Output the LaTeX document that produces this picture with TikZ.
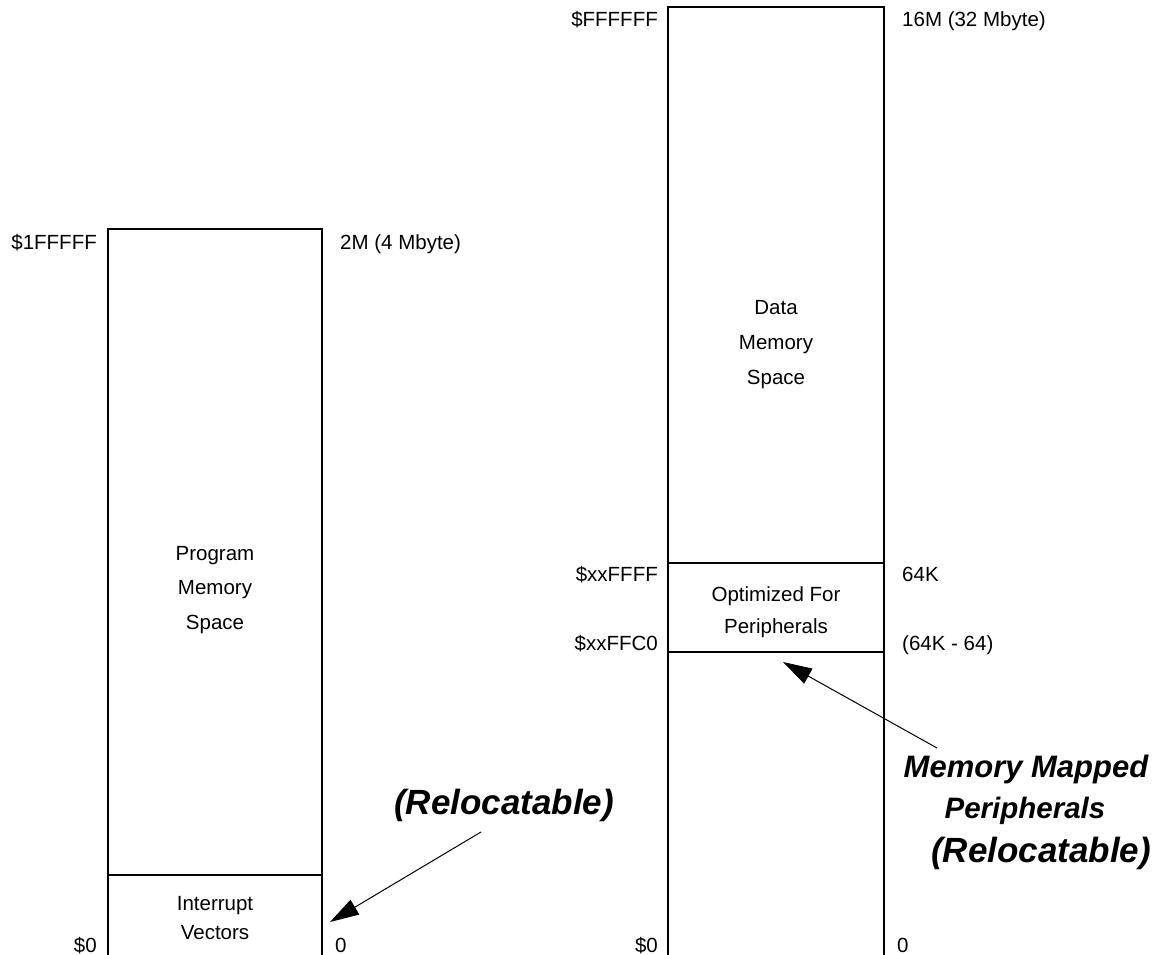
\documentclass[tikz,border=0pt]{standalone}
\usepackage{fontspec}
\setmainfont{Liberation Sans}
\usetikzlibrary{arrows.meta}
\begin{document}
\begin{tikzpicture}[x=1pt,y=-1pt,
  wall/.style={line width=1.8pt, line cap=rect},
  lab/.style={font=\fontsize{20.5}{24}\selectfont, inner sep=0pt, text height=14.7pt, text depth=0pt},
  inside/.style={font=\fontsize{20.5}{#1}\selectfont, align=center, inner sep=0pt},
  note/.style={font=\fontsize{#1}{#1}\selectfont\bfseries\itshape, inner sep=0pt},
  pointer/.style={line width=1pt, -{Triangle[length=29pt,width=17pt]}}]
\useasboundingbox (0,0) rectangle (1154,955);
% left memory map
\draw[wall] (108,955) -- (108,229) -- (322,229) -- (322,955);
\draw[wall] (108,875) -- (322,875);
\node[lab, anchor=east] (ptop) at (97,242) {\$1FFFFF};
\node[lab, anchor=west] (psize) at (340,242) {2M (4 Mbyte)};
\node[lab, anchor=east] (pbot) at (97,945) {\$0};
\node[lab, anchor=west] (pzero) at (335,945) {0};
\node[inside=34.5] (pms) at (215,590) {Program\\Memory\\Space};
\node[inside=29] (iv) at (215,918) {Interrupt\\Vectors};
% right memory map
\draw[wall] (668,955) -- (668,7) -- (884,7) -- (884,955);
\draw[wall] (668,563) -- (884,563);
\draw[wall] (668,652) -- (884,652);
\node[lab, anchor=east] (dtop) at (658,19) {\$FFFFFF};
\node[lab, anchor=west] (dsize) at (902,19) {16M (32 Mbyte)};
\node[lab, anchor=east] (xfff) at (658,574) {\$xxFFFF};
\node[lab, anchor=west] (k64) at (902,574) {64K};
\node[lab, anchor=east] (xffc) at (658,643) {\$xxFFC0};
\node[lab, anchor=west] (k64m) at (902,643) {(64K - 64)};
\node[lab, anchor=east] (dbot) at (658,945) {\$0};
\node[lab, anchor=west] (dzero) at (897,945) {0};
\node[inside=35] (dms) at (776,345) {Data\\Memory\\Space};
\node[inside=32] (ofp) at (776,612) {Optimized For\\Peripherals};
% notes and arrows
\node[note=35] (rel1) at (504,805) {(Relocatable)};
\coordinate (rel1s) at (481,832);
\coordinate (ivt) at (330,922);
\draw[pointer] (rel1s) -- (ivt);
\node[note=31] (mmp1) at (1026,769) {Memory Mapped};
\node[note=29.5] (mmp2) at (1025,811) {Peripherals};
\node[note=35] (mmp3) at (1041,853) {(Relocatable)};
\coordinate (mmps) at (937,748);
\coordinate (pert) at (783,662);
\draw[pointer] (mmps) -- (pert);
\end{tikzpicture}
\end{document}
